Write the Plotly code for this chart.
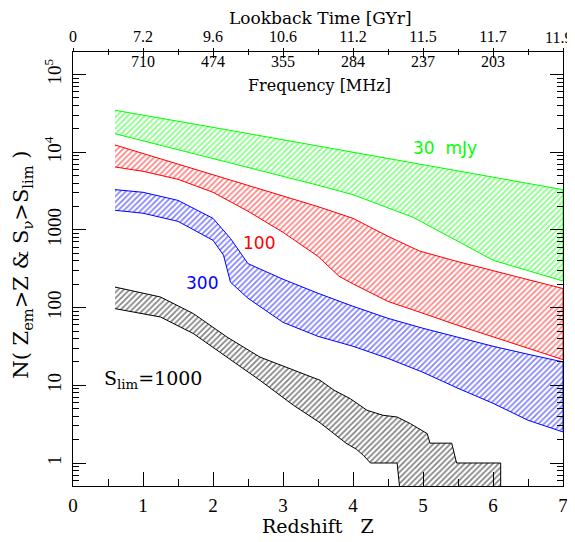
import plotly.graph_objects as go

# ---------------- data ----------------
# 30 mJy band (green)
z_g_up = [0.6, 1.0, 1.5, 2.0, 2.5, 3.0, 3.5, 4.0, 4.5, 5.0, 5.5, 6.0, 6.5, 7.0]
g_up = [34700, 30200, 25100, 20900, 17400, 14500, 12000, 10000, 8300, 6900, 5750, 4800, 4000, 3300]
z_g_lo = [0.6, 1.0, 1.5, 2.0, 2.5, 3.0, 3.5, 4.0, 4.5, 4.85, 5.5, 6.0, 6.5, 7.0]
g_lo = [17300, 13900, 10700, 8280, 6350, 4900, 3760, 2840, 1920, 1466, 713, 407, 298, 220]

# 100 mJy band (red)
z_r_up = [0.6, 1.0, 1.5, 2.0, 2.5, 3.0, 3.5, 4.0, 4.5, 4.95, 5.5, 6.0, 6.5, 7.0]
r_up = [12400, 9600, 7010, 5120, 3740, 2730, 1995, 1410, 828, 535, 390, 298, 229, 176]
z_r_lo = [0.6, 1.0, 1.5, 2.0, 2.5, 3.0, 3.5, 3.8, 4.0, 4.5, 5.0, 5.5, 6.0, 6.5, 7.0]
r_lo = [6460, 5680, 4480, 3050, 1740, 931, 457, 253, 202, 120, 84.5, 59, 42.7, 29.9, 21.4]

# 300 mJy band (blue)
z_b_up = [0.6, 1.0, 1.5, 2.0, 2.25, 2.5, 3.0, 3.5, 4.0, 4.5, 5.0, 5.5, 6.0, 6.5, 7.0]
b_up = [3300, 3050, 2400, 1410, 776, 368, 232, 153, 104, 72.8, 54.2, 41.5, 31.8, 25.1, 20]
z_b_lo = [0.6, 1.0, 1.5, 2.0, 2.15, 2.25, 2.5, 3.0, 3.5, 4.0, 4.5, 5.0, 5.5, 6.0, 6.5, 7.0]
b_lo = [1790, 1640, 1290, 735, 473, 212, 132, 64.6, 42.7, 31.8, 22.2, 14.7, 9.15, 5.87, 3.55, 2.51]

# 1000 mJy band (black)
z_k_up = [0.6, 1.25, 1.72, 2.2, 2.67, 3.15, 3.53, 3.73, 3.96, 4.2, 4.43, 4.63, 4.82, 5.06, 5.1, 5.41, 5.48, 6.11]
k_up = [184, 137, 83.7, 41.8, 23.1, 15.6, 11.6, 8.63, 6.74, 4.77, 4.11, 3.91, 3.21, 2.39, 1.8, 1.8, 1.0, 1.0]
z_k_lo = [0.6, 1.25, 1.72, 2.2, 2.67, 3.15, 3.53, 3.9, 4.05, 4.15, 4.25, 4.63, 4.69, 6.11]
k_lo = [97, 75.7, 46.3, 23.1, 11.6, 5.53, 3.29, 1.8, 1.5, 1.25, 1.0, 1.0, 0.3, 0.3]

# axis ticks
z_ticks = [0, 1, 2, 3, 4, 5, 6, 7]
z_minor = [0.5, 1.5, 2.5, 3.5, 4.5, 5.5, 6.5]
lookback_labels = ["0", "7.2", "9.6", "10.6", "11.2", "11.5", "11.7", "11.9"]
freq_ticks = [1, 2, 3, 4, 5, 6]
freq_labels = ["710", "474", "355", "284", "237", "203"]
y_ticks = [1, 10, 100, 1000, 1e4, 1e5]
y_labels = ["1", "10", "100", "1000", "10<sup>4</sup>", "10<sup>5</sup>"]
y_minor = [m * 10 ** d for d in range(-1, 6) for m in range(2, 10)]

bands = [
    (z_g_up, g_up, z_g_lo, g_lo, "#00ff00"),
    (z_r_up, r_up, z_r_lo, r_lo, "#ff0000"),
    (z_b_up, b_up, z_b_lo, b_lo, "#0000ff"),
    (z_k_up, k_up, z_k_lo, k_lo, "#000000"),
]

fig = go.Figure()
for zu, up, zl, lo, col in bands:
    fig.add_trace(go.Scatter(
        x=list(zu) + list(zl)[::-1],
        y=list(up) + list(lo)[::-1],
        mode="lines", fill="toself",
        line=dict(color=col, width=1),
        fillcolor="rgba(255,255,255,0)",
        fillpattern=dict(shape="/", fgcolor=col, bgcolor="rgba(255,255,255,0)",
                         size=4, solidity=0.4),
        showlegend=False, hoverinfo="skip"))

# dummy traces so the two top axes get drawn
for ax in ["x2", "x3"]:
    fig.add_trace(go.Scatter(x=[0], y=[1], xaxis=ax, yaxis="y", mode="markers",
                             marker=dict(opacity=0), showlegend=False, hoverinfo="skip"))

serif_num = "Liberation Serif"
serif = "DejaVu Serif"
sans = "DejaVu Sans"

# last lookback label sits at the window edge: drawn as an annotation shifted left
top_text = lookback_labels[:-1] + [""]

# the page body has an 8px margin; the figure is sized so the plot area lands
# at x 73..563, y 52..486 of the 575x542 window
fig.update_layout(
    width=567, height=534,
    margin=dict(l=65, r=12, t=44, b=56),
    paper_bgcolor="white", plot_bgcolor="white",
    showlegend=False,
    xaxis=dict(range=[0, 7], tickmode="linear", tick0=0, dtick=1,
               ticks="inside", ticklen=14, tickwidth=1, tickcolor="black",
               minor=dict(tick0=0, dtick=0.5, ticks="inside", ticklen=7, tickwidth=1, tickcolor="black"),
               showline=True, linecolor="black", linewidth=1.2, mirror=False,
               showgrid=False, zeroline=False, automargin=False,
               tickfont=dict(family=serif_num, size=19, color="black"),
               ticklabelstandoff=2, ticklabeloverflow="allow"),
    xaxis2=dict(range=[0, 7], overlaying="x", side="top", anchor="y",
                tickmode="array", tickvals=z_ticks, ticktext=top_text,
                ticks="outside", ticklen=3, tickwidth=1, tickcolor="black",
                minor=dict(tickvals=z_minor, ticks="outside", ticklen=2, tickwidth=1, tickcolor="black"),
                showline=True, linecolor="black", linewidth=1.2,
                showgrid=False, zeroline=False, automargin=False,
                tickfont=dict(family=serif_num, size=16, color="black"),
                ticklabeloverflow="allow"),
    xaxis3=dict(range=[0, 7], overlaying="x", side="top", anchor="y",
                tickmode="array", tickvals=freq_ticks, ticktext=freq_labels,
                ticks="inside", ticklen=6, tickwidth=1, tickcolor="black",
                ticklabelposition="inside",
                minor=dict(tickvals=z_minor, ticks="inside", ticklen=3, tickwidth=1, tickcolor="black"),
                showline=True, linecolor="black", linewidth=1.2,
                showgrid=False, zeroline=False, automargin=False,
                tickfont=dict(family=serif_num, size=16, color="black"),
                ticklabelstandoff=-2, ticklabeloverflow="allow"),
    yaxis=dict(type="log", range=[-0.296, 5.29],
               tickmode="array", tickvals=y_ticks, ticktext=y_labels, tickangle=-90,
               ticks="inside", ticklen=13, tickwidth=1, tickcolor="black",
               minor=dict(tickvals=y_minor, ticks="inside", ticklen=6, tickwidth=1, tickcolor="black"),
               showline=True, linecolor="black", linewidth=1.2, mirror="ticks",
               showgrid=False, zeroline=False, automargin=False,
               tickfont=dict(family=serif_num, size=19, color="black"),
               ticklabelstandoff=3),
    annotations=[
        dict(text=lookback_labels[-1], xref="x2", yref="paper", x=z_ticks[-1], y=1.0,
             xanchor="right", yanchor="bottom", xshift=11, yshift=4, showarrow=False,
             font=dict(family=serif_num, size=16, color="black")),
        dict(text="Redshift\u00a0\u00a0\u00a0Z", xref="paper", yref="paper", x=0.5, y=-0.093,
             xanchor="center", yanchor="middle", showarrow=False,
             font=dict(family=serif, size=19, color="black")),
        dict(text="Lookback Time [GYr]", xref="paper", yref="paper", x=0.505, y=1.078,
             xanchor="center", yanchor="middle", showarrow=False,
             font=dict(family=serif, size=17, color="black")),
        dict(text="Frequency [MHz]", xref="paper", yref="paper", x=0.504, y=0.923,
             xanchor="center", yanchor="middle", showarrow=False,
             font=dict(family=serif, size=16, color="black")),
        dict(text="N(\u00a0Z<sub>em</sub>&gt;Z &amp; S<sub>\u03bd</sub>&gt;S<sub>lim</sub>\u00a0)",
             xref="paper", yref="paper", x=-0.104, y=0.51, textangle=-90,
             xanchor="center", yanchor="middle", showarrow=False,
             font=dict(family=serif, size=21, color="black")),
        dict(text="30\u00a0\u00a0mJy", xref="x", yref="y", x=5.315, y=4.05,
             xanchor="center", yanchor="middle", showarrow=False,
             font=dict(family=sans, size=17, color="#00ff00")),
        dict(text="100", xref="x", yref="y", x=2.653, y=2.828,
             xanchor="center", yanchor="middle", showarrow=False,
             font=dict(family=sans, size=17, color="#ff0000")),
        dict(text="300", xref="x", yref="y", x=1.846, y=2.313,
             xanchor="center", yanchor="middle", showarrow=False,
             font=dict(family=sans, size=17, color="#0000ff")),
        dict(text="S<sub>lim</sub>=1000", xref="x", yref="y", x=0.41, y=1.077,
             xanchor="left", yanchor="middle", showarrow=False,
             font=dict(family=serif, size=19, color="black")),
    ],
)

fig.write_html("out.html")
